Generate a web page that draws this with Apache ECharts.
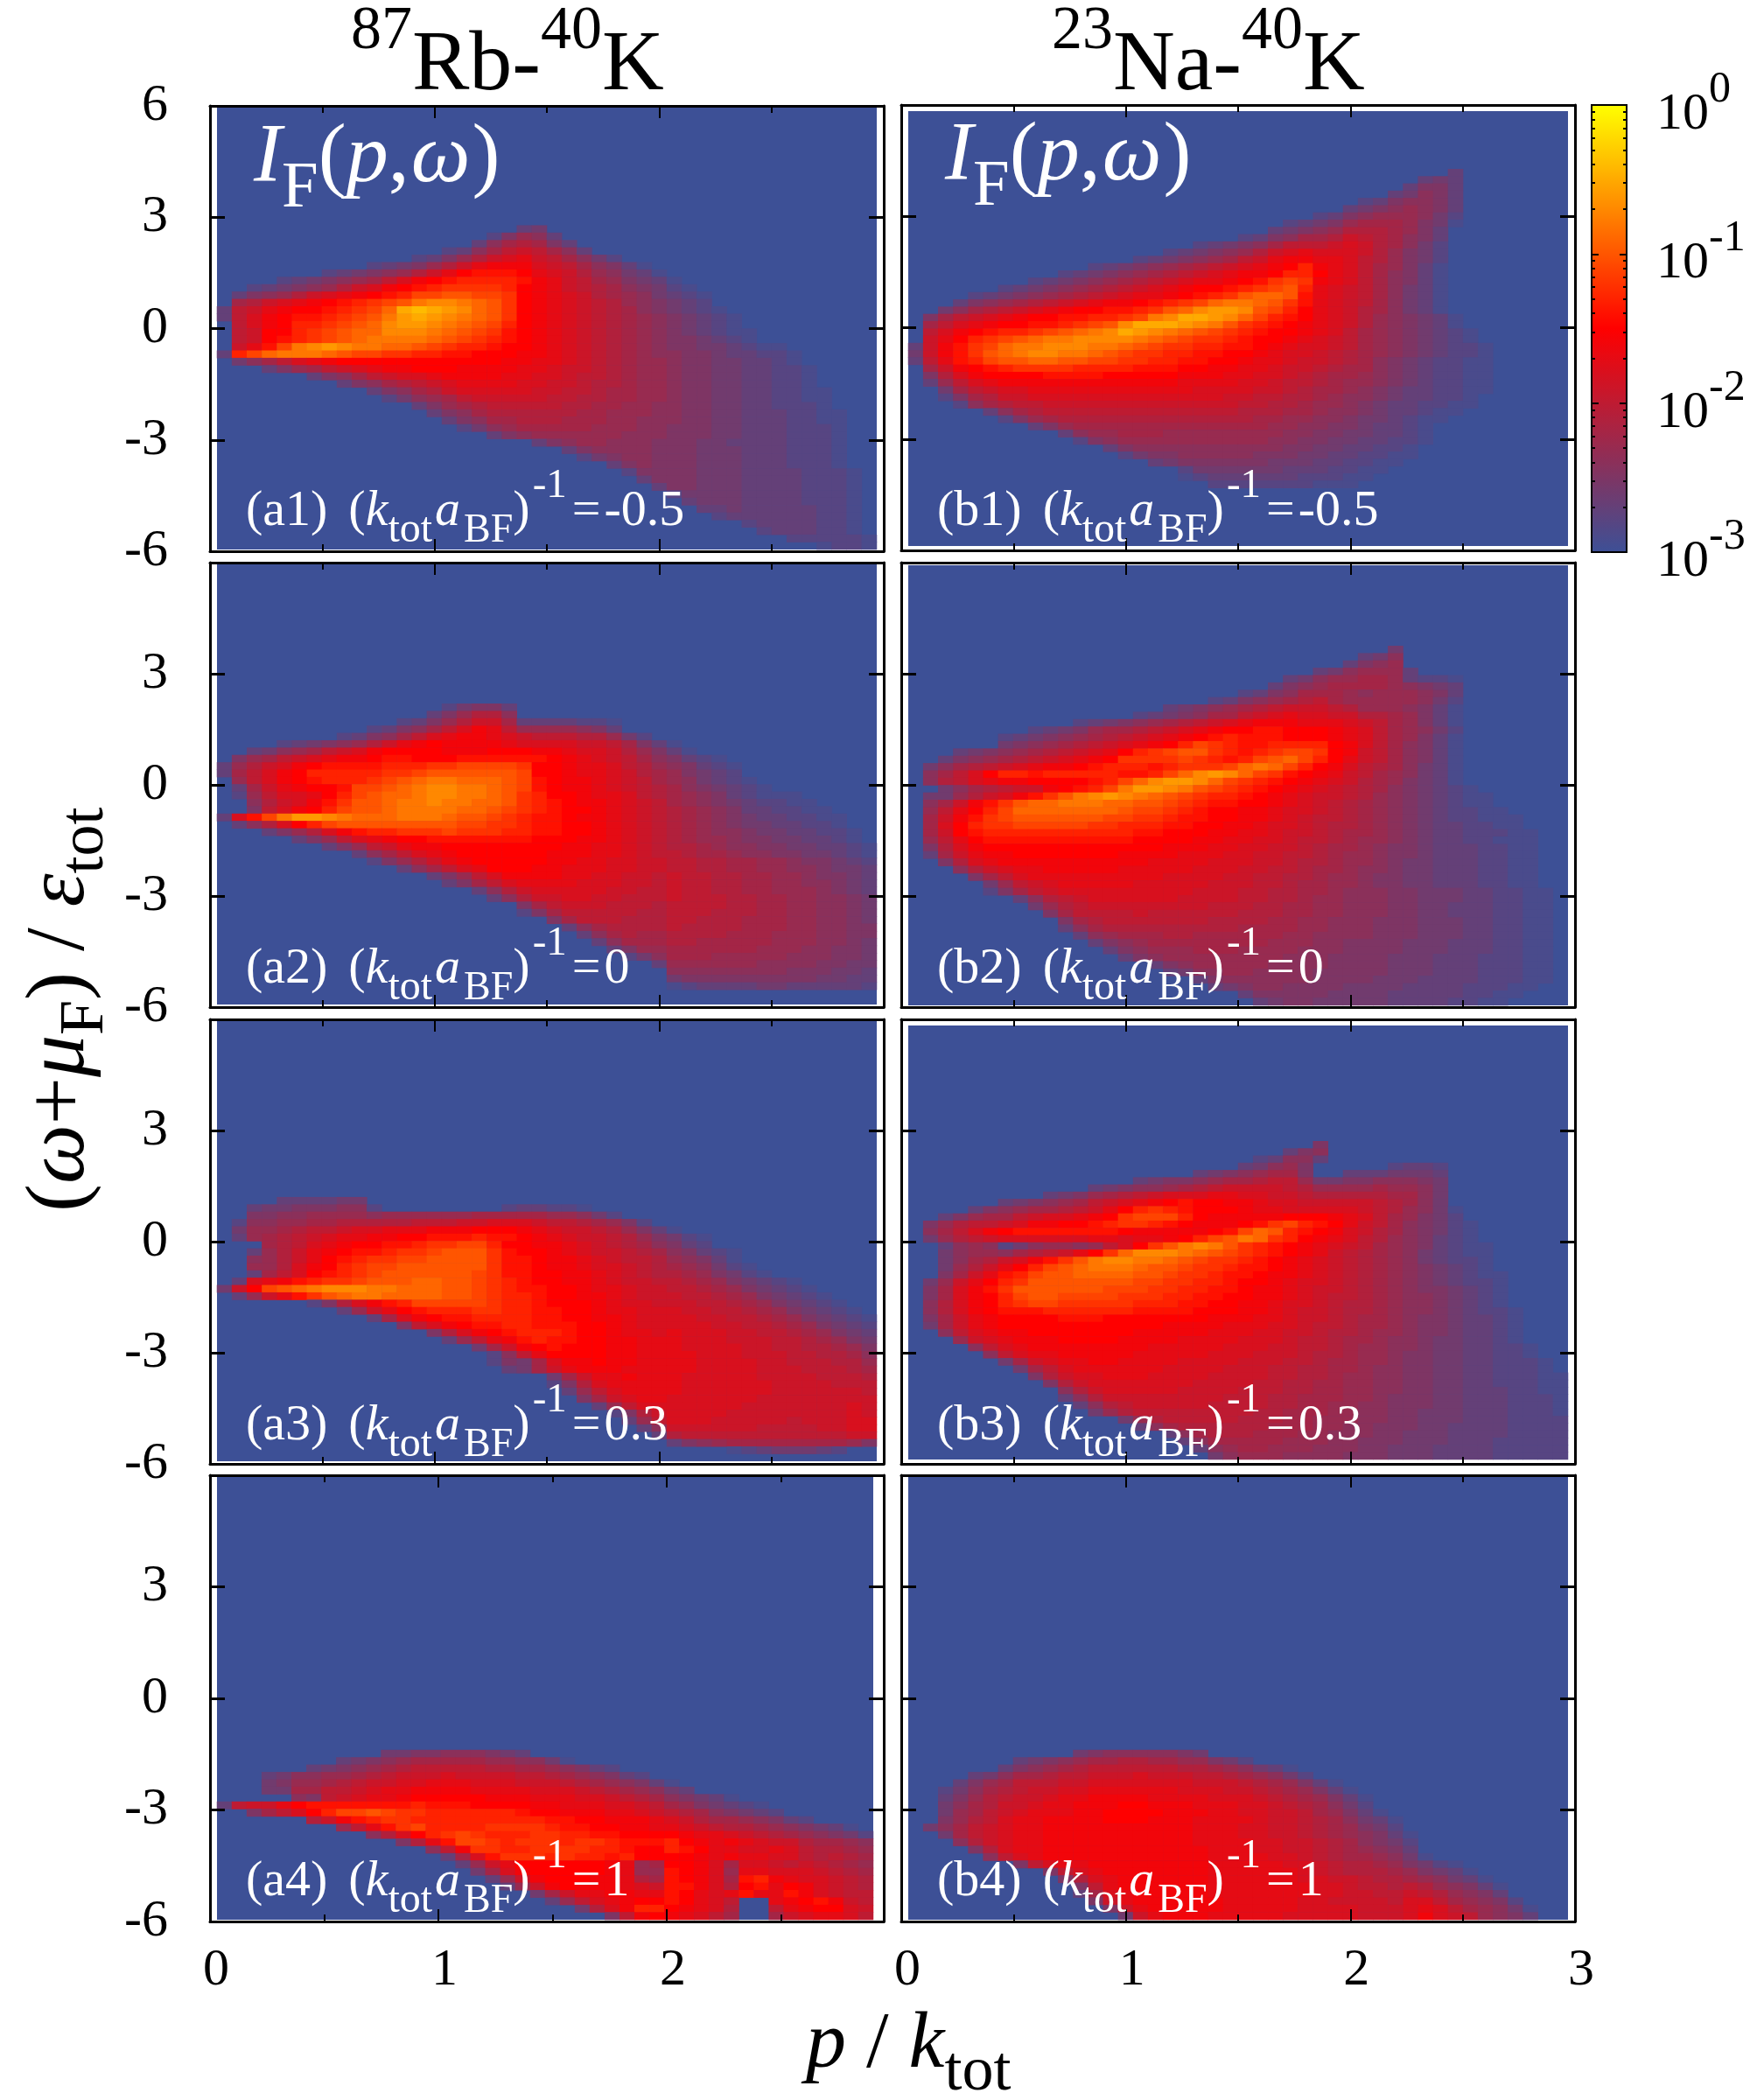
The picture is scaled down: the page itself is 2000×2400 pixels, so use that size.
<!DOCTYPE html>
<html>
<head>
<meta charset="utf-8">
<title>Fermion spectral intensity</title>
<script src="https://cdn.jsdelivr.net/npm/echarts@6/dist/echarts.min.js"></script>
<style>html,body{margin:0;background:#fff}#chart{width:2000px;height:2400px}</style>
</head>
<body>
<div id="chart"></div>
<script>
// Intensity tables: one string per energy row, one base-36 character per momentum column.
// A character n stands for log10(I) = -3 + n/10, "~" stands for ten empty cells,
// spaces only group the columns, and each table starts at the row named by its *First.
const a1First = 16;
const a1Rows = [
"~ ~ 34","~ 0000000025 763","~ 0000000368 9853","~ 000002368a ba863","~ 00023579bc dba8642","~ 234579bdee ecba86531",
"0000000234 5679bdfggg fdcb976431","0000234567 8acefghhhh gedba87543 1","002345679b cefghiiiih fedba98654 21",
"035679bcde fghjjkkjji fedcb98764 321","089bcdefgh ijkmnnmlki fedcba9765 432","3abdeffghi jlpqponlki fedcba9865 4321",
"3acefgghij kmoponmlki fedcba9876 54321","0acefhhijk lnoonmlkjh fedcba9876 54321","0abffhijkl lnnnmlkjig fedcba9876 543211",
"0abfghijkl mmmmlkjihg fedcba9876 554321","0bdgjmnonm mllkjihhgf fedcba9876 55443211","3hjlmmmlkj jiihhggfff eedcba9876 655433221",
"0468acdeff fffffffffe eddcba9877 655443321","0003578abc deefffeeee ddcbba9877 6554433221","0000003568 abccdeeeed dccbaa9877 6554433221",
"0000000035 689abcdddd ccbba99877 6554433221","~ 35689bcccc cbbaa98877 65544332211","~ 024678abbb bbaa998877 65544332211",
"~ 00035789aa aaa9988776 65544332221","~ 0000356899 9999887776 655443332211","~ 0000035688 9998887766 655443332211",
"~ 0000002467 8888877766 555443332221","~ 0000000035 6777777666 555443332221","~ ~ 0356776665 554433332221",
"~ ~ 0003566665 554443332221","~ ~ 0000245665 554443332221","~ ~ 0000003565 554443332221","~ ~ 0000000255 5544433332221",
"~ ~ 0000000035 5544433332221","~ ~ 0000000003 5544433332221","~ ~ ~ 2444433332221","~ ~ ~ 0344433332221","~ ~ ~ 0033433333221",
"~ ~ ~ 0002333333221","~ ~ ~ 0000023333221","~ ~ ~ 0000002333221","~ ~ ~ 00000000222221","~ ~ ~ 00000000001221"
];
const b1First = 8;
const b1Rows = [
"~~~ 0000003","~~~ 0000343","~~~ 0003553","~~~ 0034653","~~~ 2356653","~ ~ 0000000003 4567653","~ ~ 0000000235 6777642",
"~ ~ 0000023457 8887541","~ ~ 0000345679 9987530","~ ~ 002356889b a98653","~ 0000000002 34568aaabc b98642","~ 0000000234 5679bcdccc b97542",
"~ 0000023456 78abdeeddc a97542","~ 0023456789 abcdefhedc a87531","~ 23456789ab cdeefhhfdc a86531",
"0000000023 456789abcd defgijiedc a86531","0000002345 6789abcdef fghijkhdcb a86431","0000234567 89abcddefg hikllkgdcb a86431",
"000356789a bcdeefghij lmmlkigdcb a86431","004689abcd effgghikln oonkjhfdcb 986431","058abcdeff gghhijmnpp onljhgfdcb 9765431",
"08acdeffgg hijknpppon mkihgfedcb 9765431","0acefghhij klmnponmlk jihgffedca 87654321","0bdfhijklm mnnnnmlkji ihgffedcba 87654321",
"3begijlmmn nnmmlkjiih hggfedccba 876543221","4begiklmnn mmlkjiihhg gffedccba9 876543221","3adghjkkll kkjjiihhgg ffeddcbba9 865432211",
"08befghiii ihhhhgggff eeddcbba98 865432211","059ceffffg gggfffffee eddccba988 765432211","037acdeeee eeeeeeeedd ddccbaa987 765432211",
"0048abccdd dddddddddc cccbba9887 654332211","002589bbcc cccccccccc cbbaa99876 65433221","0002689aab bbbbbbbbbb bbaa998776 54332211",
"000003689a aaaaaaaaaa aa99988766 5433211","0000002578 9999999999 9998877665 443211","0000000035 7888888888 8888776655 43321",
"~ 3677888777 7777766554 43321","~ 0256777777 7777665544 33221","~ 0003566666 6666655443 3221","~ 0000245566 6665554433 2211",
"~ 0000003455 5555444332 211","~ 0000000024 4444433322 11","~ 0000000012 3333332221 1","~ ~ 2222222111"
];
const a2First = 19;
const a2Rows = [
"~ 0000024553","~ 0000357996","~ 0023579bb8 3333221","~ 23568aceda 7777653","0000000023 568acdeedc baaa99742",
"0000234567 9bdefeeeed ccccbba853 1","0034678abc effffeeeff feedccb975 31","0578abcdee fggfffgggg ggfedcba86 5321",
"379bcefggg ghhhiijjjj iffeddca97 65321","38acefhhhh hiijkkkkkk jffeddcb98 75432","07acefghhh ijklmmlllk jgfeedcba8 764321",
"038bdeffgj jklmnnmmlk jgfeedcba9 8654321","027accdfhj kllmnnmmlk ihffeddca9 876532111","0069bcegik klmmnmmllk ihgfeedcba 8765432211",
"005acefhjk klmmmmllkj ihgffedcba 98765332211","3cgjmoonml llmmmlkkji hggfeedcba 987654332211","0369cfhjkk kkkkkkjjii hggffedcba 987654433221",
"0003579ceg hhiiijiiih hggffedcba 9876654433221","00000357ac deffgggggg gfffeedcba 9877655443321","0000000357 abdeefffff fffeeddcba 99876655443321",
"0000000003 68acdeffff ffeeeddcba a98876655443 21","~ 2579bdefff ffeeddccbb aa998877655432","~ 00368acdff feedddccbb aa998877665443",
"~ 0000357ace eeeddccbba baa99887765543","~ 00000358ac ddddcccbba baa99887766543","~ 0000000369 bcccccbbaa baa99887776543",
"~ 0000000036 9bbccbbaaa baaa9988776654","~ ~ 58abbbaaa9 aaaa9988776654","~ ~ 258aaaaa99 aaa99988776654","~ ~ 0058aaa999 aa999888776654",
"~ ~ 0003689999 a9999888776655","~ ~ 0000368988 99998887776655","~ ~ 0000036888 99888887776654","~ ~ 0000003577 88888877766554",
"~ ~ 0000000246 88877777666554","~ ~ 0000000003 77777766665544","~ ~ ~ 66666666555443","~ ~ ~ 45555555554433","~ ~ ~ 12333344333332"
];
const b2First = 11;
const b2Rows = [
"~~~ 004","~~~ 346","~ ~ 0000000003 567","~ ~ 0000000346 7773","~ ~ 0000034677 8873221","~ ~ 0000356788 8876543","~ ~ 0023568887 6777653",
"~ ~ 2356789a87 7777642","~ 0000000345 6789abbba9 7776531","~ 0000023456 88abcdccbb 9987531","~ 023456789a bcdeeedddc ba87531",
"0000000023 457889abcd effggfffed ca87642","0000002345 6789abcdef ghgggfffed ca87531","0000004567 89abcdefhj ihgghhhhfe ca86531",
"0003456789 abcdfhijkk ihghijjife ba86531","00356789ab cdefiiiiji hghjkljhfd ba86531","04689abcde efghhhghii ijlmljhfec a986431",
"068acfhhgh hhhhgghjln onljigfedb a876431","069acdeeff ffghjlnoon ljihgfedcb 9875431","004689abbe fghjmoonmk jihgfedcba 98654321",
"04479bcegi kmnonmlkji hhgfedcbba 976543211","068begikll mmmllkkjih ggffedcba9 876543211","07adfhjlll llllkjjihg ffeedccba9 8765432211",
"08begijkkk kkkjjiihgg ffeedcbaa9 87654322111","08cfhiijjj jjiihhhggf feedccba99 87654332211","08bfghhhhh hhhhhggfff eeddcbba98 876543322211",
"07adfggggg gggggffffe eddccbaa98 776543322111","059cefffff fffffffeee ddccbba988 765543332211","038bdeefff ffffeeeedd dccbbaa987 765543332211",
"0059cdeeee eeeeeedddd cccbba9987 765443332211","00069bcdde eeeedddddc ccbbaa9887 665443332211","000058acdd dddddddccc cbbaa99877 655443332211",
"0000047abc dddddccccc bbbaa98877 655443332211","00000258ab cccccccccb bbaa998876 6655444332211","0000000369 abccccccbb bbaa998776 6655444332211",
"0000000047 9abbbbbbbb aaa9988776 6655443332211","0000000005 8aaaabaaaa aa99988776 6655443332211","~ 589aaaaaaa 9999887766 6555444332211",
"~ 3689999999 9988887766 6555444332211","~ 0367888998 8888877666 6555444332211","~ 0035678888 8888777665 5554443332211",
"~ 0003567778 8877776665 5554443332211","~ 0000356777 7777766655 5544433322211","~ 0000003567 7777666655 5544433322211",
"~ 0000000346 6776666555 5544433322211","~ 0000000003 5666666555 5444333322211","~ ~ 3456655554 444333322211","~ ~ 0035555544 44333332211","~ ~ 0003455444 4433332211"
];
const a3First = 24;
const a3Rows = [
"0000333344","0034455566 2000000002 33221","0055667777 6777777888 8877642","0266778899 999aaabbcc cbaa98752","047789aabc cdddeeefff edcbba9753 1",
"03789abcdd eeffggghgg fedcbba975 421","00089acdef fgghiijjhf feedcba986 532","00379bdefg ghiijkkkig ffedcbba98 65321","00679bdfgh iijjkkkkig gfeedcbaa9 76531",
"00779cefhi jjkkkkkkig gfeedccba9 876421","0038acfghi jkkkkkkjig gffeedcba9 9875421","03cdeghiij kkkllkkjih gffeedcbba a98754321",
"4bfjklmnnn mmlllkkjih ggffeddcbb aa98754321","037bdgiklm mllllkkjih hgffeedcbb baa98754321","000000259c eghjjjjjih hgfffedccb bbaa98754321",
"0000000037 bdfghhhiih hggffeddcc cbbaa98754321","~ 38cefgghhh hggffeedcc ccbbaa98754321","~ 005acefggh hgggffedcc cccbbaa9875432",
"~ 000059cefg hhhgffeddc dcccbbaa987543","~ 0000037ade ghggffeedd dcccbbbaa98754","~ 000000048b efgfffeedd dccccbbaa99875",
"~ 0000000026 adffffeedd ddcccbbbaa9986","~ 0000000025 48ceefeedd ddccccbbaaa997","~ 0000000003 48bdeeeddd ddccccbbbaaa98",
"~ ~ 0048bddedd dcccccbbbbaaa9","~ ~ 00259cdddd dccccccbbbbaaa","~ ~ 00037acddd dccccccbbbbbba","~ ~ 000058bcdd ccccccbbbbbbbb",
"~ ~ 0000037acc cccccbbbbbbbcb","~ ~ 000000259b ccccbbbbbbbbcb","~ ~ 000000037a cccbbbbbabbbcc","~ ~ 0000000036 bbbbbbaaaabbcc",
"~ ~ 0000000003 9aaaaaaaaaaabb","~ ~ ~ 35678888888875","~ ~ ~ 00001234443200"
];
const b3First = 16;
const b3Rows = [
"~ ~ 00000005","~ ~ 00000356","~ ~ 00023663","~ ~ 0034675000 002332","~ 0000000003 4567885003 334443","~ 0000034556 7889aa7445 566654",
"~ 0034566789 abbbba9777 787764","0000000003 45789abccc ddccbba999 998864","0000003456 78abcdefgf feedccbbbb ba9864","0000356788 9abdfhihgf ffeddccccc ba97641",
"0035788abc cdefijjjhf eeeeefffed ca87542","0579aabcee ffghiihgfe eefgijhgfd ba865421","068acefggg ggggfeeeee fgjlkhgfec b9865421",
"0479abcccc ccddcddefh jkmlihfedc a9765321","0036762467 767acfikmn mkihgfedcb a87653211","004677689a bdfilnnnml kjihgfedba 987643211",
"004689bceg ikmnnmmlkj iihgfedcba 987643221","00479bdfhj klmmmlkkji ihggfedcba 987654321","0058bdghjk kllllkkjii hggfeedcba 9876543211",
"047bdfhikk kkkkkjjiih hgffedccba 9876543221","058cegikkk kkkjjjiihh ggfeedcbba 9876554321","058cefhjkk jjjjiiihhg gffeedcbaa 9876654321",
"069cefhijj iiiiihhhgg ffeedccba9 9876654321","069cefgggh hhhhhggggf ffeedcbba9 98766543221","058bdeffff gggfffffff eeeddcbba9 88765543321",
"048bdeffff fffffffeee edddccbaa9 88765543321","006acdeeff fffffeeeee dddccbba99 87765543321","0007bcdeee ffffeeeedd ddcccbaa98 87665443321",
"00006acdee eeeeeedddd dcccbbaa98 776654433221","000006acdd eeeeeddddd cccbbba998 776554433221","00000048bc ddeeddddcc ccbbbaa988 7765544332221",
"000000048a cddddddccc cbbbaa9988 7665544332221","0000000059 bccdddcccc bbbbaa9987 76655443322211","0000000005 9bcccccccb bbbaa99887 76655443322211",
"~ 69bcccccbb bbaaa99887 76655443332211","~ 369bbbbbbb baaa998887 76555443332221","~ 0369abbbbb aaaa998877 66555443332221",
"~ 00479aaaaa aaa9988877 66554443332221","~ 0000479aaa aa99988777 66554443332222","~ 0000036899 9999888776 65554433332222",
"~ 0000000368 9998887766 65544433332222","~ 0000000036 8888877766 55544433322222","~ 0000000003 6788777666 55444333322222","~ ~ 4677766665 55444333322222"
];
const a4First = 37;
const a4Rows = [
"~ 0445566654 3","0000000034 5678888877 6641","0000003456 789aaaaa99 8876532","0003466778 9abbbcbbbb aa9876532","000457789a bbccdddccc bbba987653 1",
"0004488aab cddeeeeddd dcccba9876 43","0000065abc ddefffffee edddccba98 65431","3abbdfgggg ggghgggfff feedddccba 8754321",
"0058acfhjj kjiihhhhhh gffeeeddcb a9865432","0000009beg hiihhhhhhh hhggffeeed cb98876532","000000007a dgijhhhhii iihggffeed dcba998765431",
"~ 69cfhijihh hiihhggfff feddcba987 6542","~ 0059dgjjih iiihiihggg hfededcbb9 8876542","~ 00006aeiih hiiiihhgff hgfddccdca 99876531",
"~ 0000038cgi iihihhghff ffededdcca 9a987642","~ 00000037bd ffffffed78 ffec8ccbaba987","~ 000000048c efffffed77 gfec7ddcccba98",
"~ 0000000037 befffeed98 gfec8ghedccba9","~ 0000000003 7befeeedcb ggec9fgdfecba9","~ ~ 048bddeedd gfdcdgddgecbaa","~ ~ 0037acdeff gfdca00defgeba",
"~ ~ 000049cehh fedc900adeffcb","~ ~ 0000005aef edca8008bcddca"
];
const b4First = 37;
const b4Rows = [
"~ 0456666654","0000000345 6788998877 542","0000003567 89aaaaaa99 876431","0000346889 aabbbcbbba a987642","0003578aaa bbcccccccb bba987531",
"0024689abb ccddddddcc cbba987531","003579abbc ddeeeedddd cccba98753 1","004689bbcd deeeffeeed ddccba9864 2","00478abcdd deeffffeee ddccbba875 31",
"00579acdde eeefffeeed dddcbba986 431","0468abcdde eeeeeeeeed ddccbba987 542","0048abcdde eeeeeeeeed ddccbba987 6531","00069bcdde eeeeeeeeed dddccbba98 6542",
"000059cdde eeeeeeeeee dddccbba98 7653","000006acde eeeeeeeeee ddddccba98 87641","00000005ac ddeeeeeeee dddddccba9 9875421","0000000005 acdeeeeeee ddddddcba9 99875431",
"~ 59cdeeeeee ddddddccbb a99876431","~ 05adeeeeee dddddddccb aa9a976531","~ 038cdeeeee dddddddccb baaba97653","~ 005bdeeeee edddddccbb bbacca87652",
"~ 0005bdeeee edddddcccc bbbcdca87641","~ 00004bdeee dddddccccc bbbcecba7653"
];

// Column and row centres of the tables
const columnCount = 44, rowCount = 60;
const pColumns = Array.from({length: columnCount}, (_, j) => (0.0635 + 0.067 * j).toFixed(3));
const omegaRows = Array.from({length: rowCount}, (_, r) => (5.9 - 0.2 * r).toFixed(1));

// Tick labels and headings
const pTicks = ['0', '1', '2', '3'];
const omegaTicks = ['-6', '-3', '0', '3', '6'];
const speciesTitles = [['87', 'Rb-', '40', 'K'], ['23', 'Na-', '40', 'K']];
const couplings = ['-0.5', '0', '0.3', '1'];
const barExponents = ['0', '-1', '-2', '-3'];

const FONT = '"Liberation Serif"';
const BLUE = '#3d5096';
const sheet = document.createElement('canvas').getContext('2d');

// Lays out text runs along one baseline; each run is [text, size, italic, baseline shift, gap before].
function textRuns(x, y, runs, fill, rotation) {
  let cursor = 0;
  const children = runs.map(([text, size, italic, shift, gap]) => {
    const font = (italic ? 'italic ' : '') + size + 'px ' + FONT;
    sheet.font = font;
    sheet.textBaseline = 'middle';
    const metrics = sheet.measureText(text);
    const drop = Math.abs(metrics.alphabeticBaseline) || size * 0.3;
    cursor += gap || 0;
    const el = {
      type: 'text', x: cursor, y: (shift || 0) - drop, z: 60, silent: true,
      style: {text, font, fill, align: 'left', verticalAlign: 'middle'}
    };
    cursor += metrics.width;
    return el;
  });
  return {type: 'group', x, y, rotation: rotation || 0, z: 60, silent: true, children};
}

function couplingLabel(tag, value, x, y) {
  return textRuns(x, y, [
    [tag, 58], ['(', 58, false, 0, 24], ['k', 58, true], ['tot', 48, false, 19], ['a', 58, true, 0, 3], ['BF', 46, false, 19, 4],
    [')', 58], ['-1', 47, false, -32, 3], ['=', 58, false, 0, 6], [value, 58, false, 0, 4]
  ], '#fff');
}

// Frame outer edges and the inset area covered by the table, per panel
const panels = [
  {tag: 'a1', first: a1First, rows: a1Rows, frame: [240, 121, 1010, 630], cells: [248, 123, 1002, 628]},
  {tag: 'b1', first: b1First, rows: b1Rows, frame: [1030, 120, 1800, 629], cells: [1038, 127, 1792, 624]},
  {tag: 'a2', first: a2First, rows: a2Rows, frame: [240, 643, 1010, 1151], cells: [248, 645, 1002, 1148]},
  {tag: 'b2', first: b2First, rows: b2Rows, frame: [1030, 643, 1800, 1151], cells: [1038, 646, 1792, 1149]},
  {tag: 'a3', first: a3First, rows: a3Rows, frame: [240, 1165, 1010, 1673], cells: [248, 1167, 1002, 1670]},
  {tag: 'b3', first: b3First, rows: b3Rows, frame: [1030, 1165, 1800, 1673], cells: [1038, 1172, 1792, 1668]},
  {tag: 'a4', first: a4First, rows: a4Rows, frame: [240, 1686, 1010, 2196], cells: [248, 1688, 998, 2194], pMax: 2.95},
  {tag: 'b4', first: b4First, rows: b4Rows, frame: [1030, 1686, 1800, 2196], cells: [1038, 1688, 1792, 2194]}
];

function expand(row) {
  return row.replace(/~/g, '0000000000').replace(/\s/g, '');
}

const grid = [], xAxis = [], yAxis = [], series = [];
const axisLabelFont = {fontFamily: FONT, fontSize: 60, color: '#000'};

panels.forEach((panel, i) => {
  const row = Math.floor(i / 2), col = i % 2;
  const [l, t, r, b] = panel.frame, [cl, ct, cr, cb] = panel.cells;
  const pMax = panel.pMax || 3;

  // Table area
  const cellGrid = grid.length;
  grid.push({left: cl, top: ct, width: cr - cl, height: cb - ct, show: true, backgroundColor: BLUE, borderWidth: 0});
  const cellX = xAxis.length, cellY = yAxis.length;
  xAxis.push({type: 'category', gridIndex: cellGrid, data: pColumns, show: false});
  yAxis.push({type: 'category', gridIndex: cellGrid, data: omegaRows, show: false, inverse: true});
  const data = [];
  panel.rows.forEach((text, ri) => {
    [...expand(text)].forEach((ch, j) => {
      const level = parseInt(ch, 36);
      if (level > 0) data.push([j, panel.first + ri, -3 + level / 10]);
    });
  });
  series.push({
    type: 'heatmap', xAxisIndex: cellX, yAxisIndex: cellY, data, z: 2,
    progressive: 0, animation: false, emphasis: {disabled: true}, itemStyle: {borderWidth: 0}
  });

  // Framed value axes
  const frameGrid = grid.length;
  grid.push({left: l, top: t, width: r - l, height: b - t, show: false});
  const line = {show: true, onZero: false, lineStyle: {color: '#000', width: 3}};
  const xTick = {show: true, inside: true, length: 14, lineStyle: {color: '#000', width: 2}};
  const xMinor = {show: true, splitNumber: 2, length: 8, lineStyle: {color: '#000', width: 2}};
  const yTick = {show: true, inside: true, length: 17, lineStyle: {color: '#000', width: 3}};
  [['bottom', row === 3], ['top', false]].forEach(([position, labelled]) => {
    xAxis.push({
      type: 'value', gridIndex: frameGrid, position, min: 0, max: pMax, interval: 1, z: 20,
      axisLine: line, axisTick: xTick, minorTick: xMinor, splitLine: {show: false},
      axisLabel: {
        show: labelled, margin: 26, ...axisLabelFont, padding: [0, 0, 0, 14],
        formatter: v => pTicks.includes(String(v)) ? String(v) : ''
      }
    });
  });
  ['left', 'right'].forEach(position => {
    yAxis.push({
      type: 'value', gridIndex: frameGrid, position, min: -6, max: 6, interval: 3, z: 20,
      axisLine: line, axisTick: yTick, splitLine: {show: false},
      axisLabel: {
        show: position === 'left' && col === 0, margin: 48, ...axisLabelFont, padding: [8, 0, 0, 0],
        formatter: v => (omegaTicks.includes(String(v)) && !(v === 6 && row > 0)) ? String(v) : ''
      }
    });
  });
});

// Colour bar frame and decade ticks, drawn over the visual map's own gradient
const barGrid = grid.length;
grid.push({left: 1819, top: 120, width: 40, height: 511, show: false});
const barLine = {show: true, onZero: false, lineStyle: {color: '#000', width: 2}};
const decades = [-1, -2];
const subDecades = [];
[-3, -2, -1].forEach(n => [2, 3, 4, 5, 6, 7, 8, 9].forEach(k => subDecades.push(n + Math.log10(k))));
['bottom', 'top'].forEach(position => xAxis.push({
  type: 'value', gridIndex: barGrid, position, min: 0, max: 1, z: 20, axisLine: barLine,
  axisTick: {show: false}, axisLabel: {show: false}, splitLine: {show: false}
}));
[['left', decades, 8], ['right', decades, 8], ['left', subDecades, 4], ['right', subDecades, 4]].forEach(([position, values, length]) => yAxis.push({
  type: 'value', gridIndex: barGrid, position, min: -3, max: 0, z: 20, axisLine: barLine,
  axisLabel: {show: false}, splitLine: {show: false},
  axisTick: {show: true, inside: true, length, customValues: values, lineStyle: {color: '#000', width: 2}}
}));

// Headings and annotations
const graphics = [];
speciesTitles.forEach(([m1, s1, m2, s2], c) => {
  graphics.push(textRuns(c === 0 ? 401 : 1202, 102, [
    [m1, 70, false, -47], [s1, 98], [m2, 70, false, -47], [s2, 98]
  ], '#000'));
  graphics.push(textRuns(c === 0 ? 290 : 1080, c === 0 ? 207 : 205, [
    ['I', 96, true], ['F', 75, false, 29], ['(', 96], ['p', 96, true], [',', 96], ['ω', 96, true, 0, 2], [')', 96, false, 0, 2]
  ], '#fff'));
});
const labelBaselines = [600, 1123, 1645, 2166];
couplings.forEach((value, row) => {
  graphics.push(couplingLabel('(a' + (row + 1) + ')', value, 281, labelBaselines[row]));
  graphics.push(couplingLabel('(b' + (row + 1) + ')', value, 1071, labelBaselines[row]));
});
graphics.push(textRuns(95, 1385, [
  ['(', 96], ['ω', 96, true], ['+', 96], ['μ', 96, true], ['F', 72, false, 22], [')', 96],
  [' / ', 96], ['ε', 96, true], ['tot', 72, false, 22]
], '#000', Math.PI / 2));
graphics.push(textRuns(921, 2362, [
  ['p', 92, true], [' / ', 92], ['k', 92, true], ['tot', 72, false, 26]
], '#000'));
barExponents.forEach((exp, i) => {
  graphics.push(textRuns(1893, 147 + 170.4 * i, [['10', 60], [exp, 50, false, -31]], '#000'));
});

const chart = echarts.init(document.getElementById('chart'), null, {renderer: 'canvas'});
chart.setOption({
  animation: false,
  backgroundColor: '#fff',
  grid, xAxis, yAxis, series,
  graphic: {elements: graphics},
  visualMap: {
    type: 'continuous', min: -3, max: 0, dimension: 2,
    seriesIndex: series.map((_, i) => i),
    left: 1819, top: 120, itemWidth: 40, itemHeight: 511, padding: 0,
    calculable: false, hoverLink: false, text: null, z: 4,
    inRange: {color: [BLUE, '#ff0000', '#ffff00']}
  }
});
</script>
</body>
</html>
